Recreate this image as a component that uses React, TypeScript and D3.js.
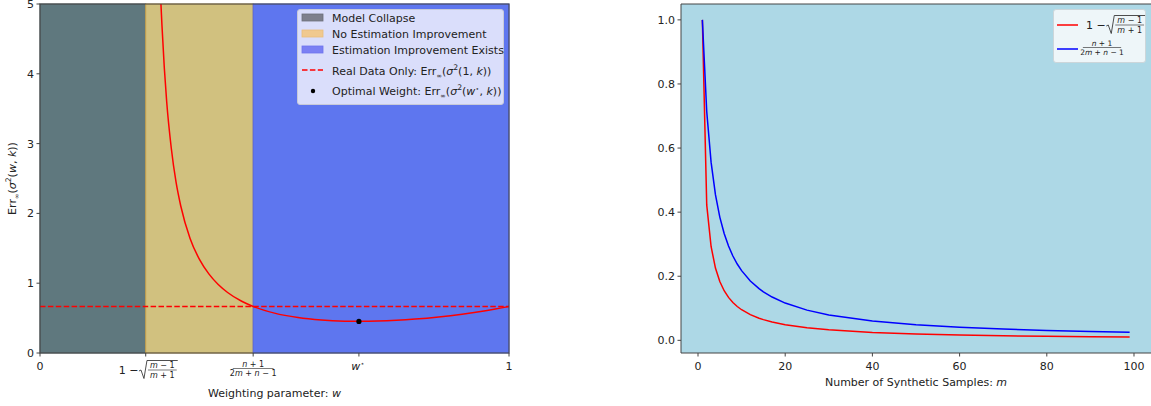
import React from "react";
import * as d3 from "d3";

// ---------- data ----------
// Left panel: region boundaries on w, and the error curve
const regionNames = ["Model Collapse", "No Estimation Improvement", "Estimation Improvement Exists"];
const regionBounds = [0, 0.2254, 0.4545, 1];
const curveW = [0.2575, 0.26, 0.265, 0.27, 0.28, 0.29, 0.3, 0.32, 0.34, 0.36, 0.38, 0.4, 0.43, 0.4545, 0.5, 0.55, 0.6, 0.65, 0.68, 0.72, 0.76, 0.8, 0.85, 0.9, 0.95, 1.0];
const curveErr = [5.05, 4.7, 4.09, 3.61, 2.93, 2.45, 2.11, 1.642, 1.341, 1.133, 0.981, 0.867, 0.741, 0.667, 0.571, 0.508, 0.473, 0.4566, 0.454, 0.4577, 0.4684, 0.4857, 0.516, 0.556, 0.606, 0.667];
const realDataErr = 0.667;
const optimalW = 0.68;
const optimalErr = 0.453;
const leftYTicks = [0, 1, 2, 3, 4, 5];

// Right panel: thresholds vs number of synthetic samples m
const mValues = [1, 2, 3, 4, 5, 6, 7, 8, 9, 10, 12, 14, 15, 17, 20, 25, 30, 40, 50, 60, 70, 80, 90, 99];
const collapseThreshold = [1, 0.4226, 0.2929, 0.2254, 0.1835, 0.1548, 0.134, 0.1181, 0.1056, 0.0955, 0.0801, 0.0691, 0.0646, 0.0572, 0.0488, 0.0392, 0.0328, 0.0247, 0.0198, 0.0166, 0.0142, 0.0125, 0.0111, 0.0101];
const improvementThreshold = [1, 0.714, 0.556, 0.4545, 0.3846, 0.3333, 0.2941, 0.2632, 0.2381, 0.2174, 0.1852, 0.1613, 0.1515, 0.1351, 0.1163, 0.0943, 0.0794, 0.0602, 0.0485, 0.0407, 0.035, 0.0307, 0.0273, 0.0249];
const rightXTicks = [0, 20, 40, 60, 80, 100];
const rightYTicks = [0, 0.2, 0.4, 0.6, 0.8, 1.0];

const FONT = "'DejaVu Sans', sans-serif";
const SPINE = "#444";
const TXT = "#222";

const regionFill = ["#5f787e", "#d1c17f", "#5e76ef"];
const regionEdge = ["#55666b", "#c9a24a", "#5566e0"];
const legendSwatch = ["#7e808d", "#f0c98f", "#7b80f4"];
const legendSwatchEdge = ["#6d6f7a", "#e8bd7a", "#6f74ee"];

// ---------- small math helpers ----------
const It = ({ children }: { children: React.ReactNode }) => <tspan fontStyle="italic">{children}</tspan>;

// "1 − √(m−1 / m+1)" starting at x0, with fraction bar at yBar
function OneMinusSqrt({ x0, yBar, size = 11, fsize = 8 }: { x0: number; yBar: number; size?: number; fsize?: number }) {
  const textW = size * 1.75;
  const sx = x0 + textW + 1;
  const fracW = fsize * 3.6;
  const top = yBar - fsize - 1.5;
  const bot = yBar + fsize + 0.5;
  const fx = sx + 9 + fracW / 2;
  return (
    <g>
      <text x={x0} y={yBar + size * 0.38} fontSize={size} fontFamily={FONT} fill={TXT}>1 − </text>
      <path
        d={`M${sx},${yBar + 1} L${sx + 2},${yBar} L${sx + 5},${bot} L${sx + 8},${top} L${sx + 10 + fracW},${top}`}
        fill="none" stroke={TXT} strokeWidth={0.8}
      />
      <text x={fx} y={yBar - 1.6} textAnchor="middle" fontSize={fsize} fontFamily={FONT} fill={TXT}><It>m</It> − 1</text>
      <line x1={fx - fracW / 2} x2={fx + fracW / 2} y1={yBar} y2={yBar} stroke={TXT} strokeWidth={0.6} />
      <text x={fx} y={yBar + fsize - 0.5} textAnchor="middle" fontSize={fsize} fontFamily={FONT} fill={TXT}><It>m</It> + 1</text>
    </g>
  );
}

function NFrac({ cx, yBar, fsize = 8 }: { cx: number; yBar: number; fsize?: number }) {
  const w = fsize * 5.1;
  return (
    <g>
      <text x={cx} y={yBar - 1.6} textAnchor="middle" fontSize={fsize} fontFamily={FONT} fill={TXT}><It>n</It> + 1</text>
      <line x1={cx - w / 2} x2={cx + w / 2} y1={yBar} y2={yBar} stroke={TXT} strokeWidth={0.6} />
      <text x={cx} y={yBar + fsize - 0.5} textAnchor="middle" fontSize={fsize} fontFamily={FONT} fill={TXT}>2<It>m</It> + <It>n</It> − 1</text>
    </g>
  );
}

const ErrSym = ({ arg, restore = 0 }: { arg: React.ReactNode; restore?: number }) => (
  <>
    Err<tspan fontSize="0.6em" dy="3">∞</tspan><tspan dy="-3">(</tspan><It>σ</It><tspan fontSize="0.7em" dy="-5">2</tspan><tspan dy="5">(</tspan>{arg}<tspan dy={restore}>, </tspan><It>k</It>))
  </>
);

export default function App() {
  // ----- left panel scales -----
  const xL = d3.scaleLinear().domain([0, 1]).range([40, 509]);
  const yL = d3.scaleLinear().domain([0, 5]).range([353, 4]);
  // ----- right panel scales -----
  const xR = d3.scaleLinear().domain([-3.9, 103.9]).range([681, 1151]);
  const yR = d3.scaleLinear().domain([-0.0395, 1.0495]).range([353, 4]);

  const leftLine = d3.line<number>().x((_, i) => xL(curveW[i])).y((d) => yL(d)).curve(d3.curveMonotoneX);
  const redLine = d3.line<number>().x((_, i) => xR(mValues[i])).y((d) => yR(d));
  const blueLine = d3.line<number>().x((_, i) => xR(mValues[i])).y((d) => yR(d));

  const [lx0, lx1] = xL.range();
  const [ly0, ly1] = [yL(5), yL(0)];
  const [rx0, rx1] = xR.range();

  return (
    <svg width={1151} height={406} style={{ position: "absolute", left: 0, top: 0, background: "#fff" }}>
      <defs>
        <clipPath id="clipL"><rect x={lx0} y={ly0} width={lx1 - lx0} height={ly1 - ly0} /></clipPath>
        <clipPath id="clipR"><rect x={rx0} y={ly0} width={rx1 - rx0} height={ly1 - ly0} /></clipPath>
      </defs>

      {/* ================= LEFT PANEL ================= */}
      <rect x={lx0} y={ly0} width={lx1 - lx0} height={ly1 - ly0} fill="#add8e6" />
      {regionNames.map((n, i) => (
        <rect key={n} x={xL(regionBounds[i])} y={ly0} width={xL(regionBounds[i + 1]) - xL(regionBounds[i])} height={ly1 - ly0}
          fill={regionFill[i]} stroke={regionEdge[i]} strokeWidth={1} />
      ))}
      <g clipPath="url(#clipL)">
        <line x1={lx0} x2={lx1} y1={yL(realDataErr)} y2={yL(realDataErr)} stroke="#ff0000" strokeWidth={1.5} strokeDasharray="5.5,2.4" />
        <path d={leftLine(curveErr) || ""} fill="none" stroke="#ff0000" strokeWidth={1.5} />
        <circle cx={xL(optimalW)} cy={yL(optimalErr)} r={2.6} fill="#000" />
      </g>
      <rect x={lx0} y={ly0} width={lx1 - lx0} height={ly1 - ly0} fill="none" stroke={SPINE} strokeWidth={1} />

      {/* left y axis */}
      {leftYTicks.map((t) => (
        <g key={t}>
          <line x1={lx0 - 3.5} x2={lx0} y1={yL(t)} y2={yL(t)} stroke={SPINE} />
          <text x={lx0 - 6} y={yL(t) + 4} textAnchor="end" fontSize={11} fontFamily={FONT} fill={TXT}>{t}</text>
        </g>
      ))}
      <text transform={`translate(16,${(ly0 + ly1) / 2}) rotate(-90)`} textAnchor="middle" fontSize={11} fontFamily={FONT} fill={TXT}>
        <ErrSym arg={<It>w</It>} />
      </text>

      {/* left x axis */}
      {[0, regionBounds[1], regionBounds[2], optimalW, 1].map((t) => (
        <line key={t} x1={xL(t)} x2={xL(t)} y1={ly1} y2={ly1 + 3.5} stroke={SPINE} />
      ))}
      <text x={xL(0)} y={370} textAnchor="middle" fontSize={11} fontFamily={FONT} fill={TXT}>0</text>
      <text x={xL(1)} y={370} textAnchor="middle" fontSize={11} fontFamily={FONT} fill={TXT}>1</text>
      <OneMinusSqrt x0={xL(regionBounds[1]) - 27} yBar={370} />
      <NFrac cx={xL(regionBounds[2])} yBar={368.5} />
      <text x={xL(optimalW) - 1} y={370} textAnchor="middle" fontSize={11} fontFamily={FONT} fill={TXT}>
        <It>w</It><tspan fontSize={7} dy={-4}>⋆</tspan>
      </text>
      <text x={(lx0 + lx1) / 2} y={397} textAnchor="middle" fontSize={11} fontFamily={FONT} fill={TXT}>
        Weighting parameter: <It>w</It>
      </text>

      {/* left legend */}
      <g>
        <rect x={297.5} y={9.5} width={206} height={95} rx={2.5} fill="#e0e4fb" fillOpacity={0.95} stroke="#c8cad8" />
        {regionNames.map((n, i) => (
          <g key={n}>
            <rect x={302} y={14 + i * 16} width={21} height={7} fill={legendSwatch[i]} stroke={legendSwatchEdge[i]} strokeWidth={0.8} />
            <text x={332} y={21.5 + i * 16} fontSize={11} fontFamily={FONT} fill={TXT}>{n}</text>
          </g>
        ))}
        <line x1={302} x2={323} y1={70} y2={70} stroke="#ff0000" strokeWidth={1.5} strokeDasharray="5.5,2.4" />
        <text x={332} y={74.5} fontSize={11} fontFamily={FONT} fill={TXT}>
          Real Data Only: <ErrSym arg={<tspan>1</tspan>} />
        </text>
        <circle cx={313} cy={91} r={2.2} fill="#000" />
        <text x={332} y={94.5} fontSize={11} fontFamily={FONT} fill={TXT}>
          Optimal Weight: <ErrSym restore={4} arg={<><It>w</It><tspan fontSize="0.6em" dy="-4">⋆</tspan></>} />
        </text>
      </g>

      {/* ================= RIGHT PANEL ================= */}
      <rect x={rx0} y={ly0} width={rx1 - rx0} height={ly1 - ly0} fill="#add8e6" />
      <g clipPath="url(#clipR)">
        <path d={redLine(collapseThreshold) || ""} fill="none" stroke="#ff0000" strokeWidth={1.5} />
        <path d={blueLine(improvementThreshold) || ""} fill="none" stroke="#0000ff" strokeWidth={1.5} />
      </g>
      <line x1={rx0} x2={rx0} y1={ly0} y2={ly1} stroke={SPINE} />
      <line x1={rx0} x2={rx1} y1={ly0} y2={ly0} stroke={SPINE} />
      <line x1={rx0} x2={rx1} y1={ly1} y2={ly1} stroke={SPINE} />

      {rightYTicks.map((t) => (
        <g key={t}>
          <line x1={rx0 - 3.5} x2={rx0} y1={yR(t)} y2={yR(t)} stroke={SPINE} />
          <text x={rx0 - 6} y={yR(t) + 4} textAnchor="end" fontSize={11} fontFamily={FONT} fill={TXT}>{t.toFixed(1)}</text>
        </g>
      ))}
      {rightXTicks.map((t) => (
        <g key={t}>
          <line x1={xR(t)} x2={xR(t)} y1={ly1} y2={ly1 + 3.5} stroke={SPINE} />
          <text x={xR(t)} y={370} textAnchor="middle" fontSize={11} fontFamily={FONT} fill={TXT}>{t}</text>
        </g>
      ))}
      <text x={(rx0 + rx1) / 2} y={386} textAnchor="middle" fontSize={11} fontFamily={FONT} fill={TXT}>
        Number of Synthetic Samples: <It>m</It>
      </text>

      {/* right legend */}
      <g>
        <rect x={1053.5} y={9.5} width={92} height={53} rx={2.5} fill="#eef6f9" stroke="#ccd6da" />
        <line x1={1057} x2={1078} y1={25} y2={25} stroke="#ff0000" strokeWidth={1.5} />
        <OneMinusSqrt x0={1086} yBar={25} />
        <line x1={1057} x2={1078} y1={49} y2={49} stroke="#0000ff" strokeWidth={1.5} />
        <NFrac cx={1102} yBar={47.5} fsize={7.5} />
      </g>
    </svg>
  );
}
